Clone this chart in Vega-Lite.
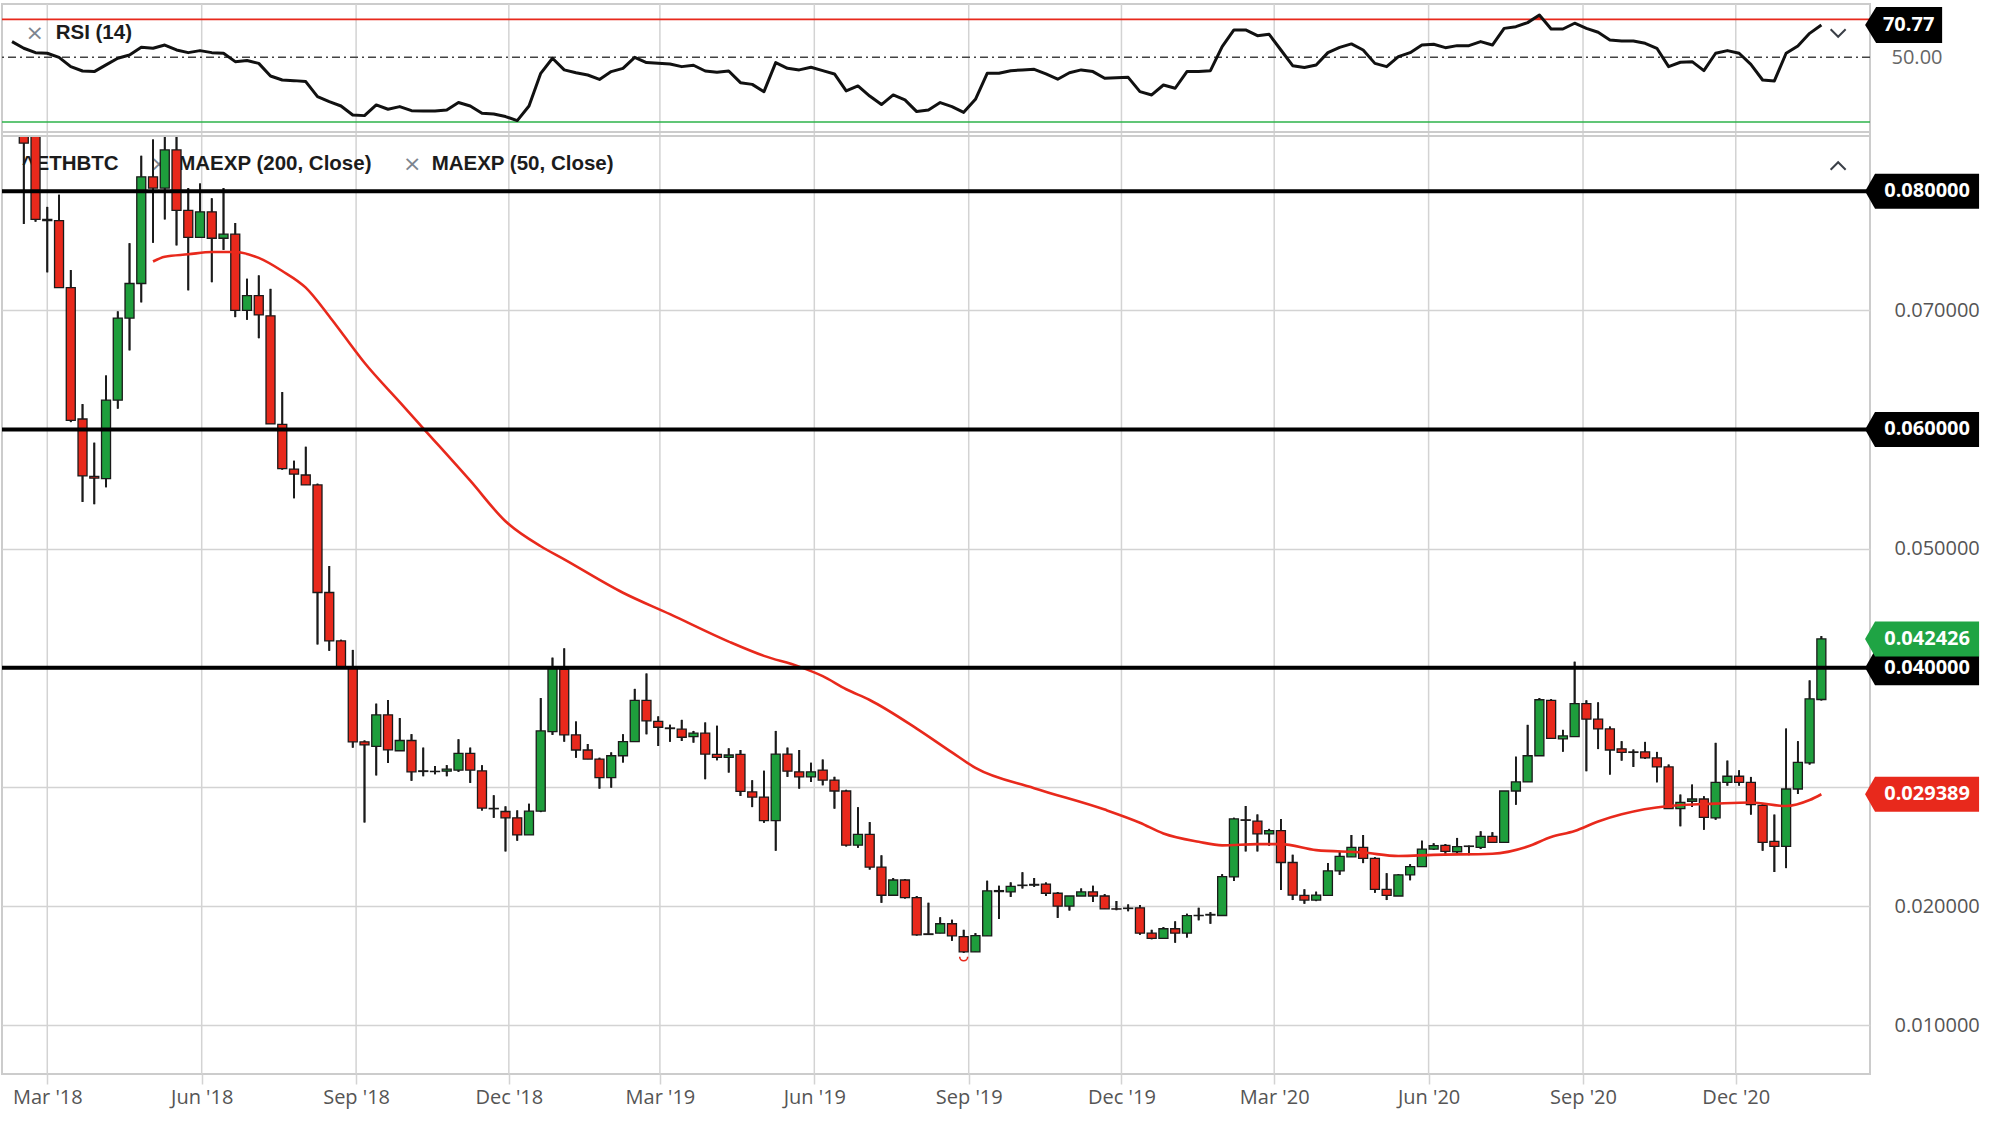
{
  "$schema": "https://vega.github.io/schema/vega-lite/v6.json",
  "width": 1868,
  "height": 1070,
  "autosize": {"type": "none"},
  "padding": {"left": 2, "top": 4, "right": 130, "bottom": 51},
  "background": "#FFFFFF",
  "datasets": {
    "candles": [
      {"d": "2018-02-08", "r": 60.1},
      {"d": "2018-02-15", "o": 0.086, "h": 0.088, "l": 0.07725, "c": 0.08403, "r": 55.8},
      {"d": "2018-02-22", "o": 0.085, "h": 0.0862, "l": 0.07744, "c": 0.07763, "r": 53.0},
      {"d": "2018-03-01", "o": 0.07763, "h": 0.07868, "l": 0.07319, "c": 0.07752, "r": 52.6},
      {"d": "2018-03-08", "o": 0.07752, "h": 0.0797, "l": 0.07191, "c": 0.07191, "r": 50.0},
      {"d": "2018-03-15", "o": 0.07191, "h": 0.07338, "l": 0.06062, "c": 0.06077, "r": 44.0},
      {"d": "2018-03-22", "o": 0.06088, "h": 0.06213, "l": 0.05392, "c": 0.0561, "r": 41.2},
      {"d": "2018-03-29", "o": 0.05607, "h": 0.05889, "l": 0.05373, "c": 0.05592, "r": 40.8},
      {"d": "2018-04-05", "o": 0.05588, "h": 0.06453, "l": 0.05516, "c": 0.06246, "r": 45.1},
      {"d": "2018-04-12", "o": 0.06246, "h": 0.06991, "l": 0.06175, "c": 0.06935, "r": 49.4},
      {"d": "2018-04-19", "o": 0.06935, "h": 0.07563, "l": 0.06664, "c": 0.07225, "r": 51.5},
      {"d": "2018-04-26", "o": 0.07225, "h": 0.08297, "l": 0.07067, "c": 0.0812, "r": 56.4},
      {"d": "2018-05-03", "o": 0.0812, "h": 0.08433, "l": 0.07567, "c": 0.08026, "r": 55.8},
      {"d": "2018-05-10", "o": 0.08026, "h": 0.085, "l": 0.07763, "c": 0.08346, "r": 57.9},
      {"d": "2018-05-17", "o": 0.08346, "h": 0.0855, "l": 0.07545, "c": 0.07838, "r": 54.7},
      {"d": "2018-05-24", "o": 0.07838, "h": 0.08026, "l": 0.07168, "c": 0.07612, "r": 53.0},
      {"d": "2018-05-31", "o": 0.07612, "h": 0.08064, "l": 0.07612, "c": 0.07827, "r": 54.3},
      {"d": "2018-06-07", "o": 0.07827, "h": 0.0794, "l": 0.07236, "c": 0.07605, "r": 53.0},
      {"d": "2018-06-14", "o": 0.07605, "h": 0.08026, "l": 0.07507, "c": 0.07639, "r": 52.6},
      {"d": "2018-06-21", "o": 0.07639, "h": 0.07733, "l": 0.06943, "c": 0.06999, "r": 47.2},
      {"d": "2018-06-28", "o": 0.06999, "h": 0.07266, "l": 0.0692, "c": 0.07123, "r": 47.9},
      {"d": "2018-07-05", "o": 0.07123, "h": 0.07293, "l": 0.06766, "c": 0.06961, "r": 46.1},
      {"d": "2018-07-12", "o": 0.06954, "h": 0.0718, "l": 0.06047, "c": 0.06047, "r": 38.0},
      {"d": "2018-07-19", "o": 0.06043, "h": 0.06314, "l": 0.05663, "c": 0.05671, "r": 35.4},
      {"d": "2018-07-26", "o": 0.05667, "h": 0.05738, "l": 0.05422, "c": 0.05626, "r": 35.0},
      {"d": "2018-08-02", "o": 0.05618, "h": 0.05855, "l": 0.05535, "c": 0.05535, "r": 34.4},
      {"d": "2018-08-09", "o": 0.05535, "h": 0.05545, "l": 0.04196, "c": 0.04632, "r": 24.7},
      {"d": "2018-08-16", "o": 0.04632, "h": 0.04854, "l": 0.04143, "c": 0.04226, "r": 21.5},
      {"d": "2018-08-23", "o": 0.04226, "h": 0.04236, "l": 0.0399, "c": 0.04, "r": 18.7},
      {"d": "2018-08-30", "o": 0.04, "h": 0.0415, "l": 0.0333, "c": 0.03379, "r": 12.9},
      {"d": "2018-09-06", "o": 0.03379, "h": 0.0339, "l": 0.02702, "c": 0.03353, "r": 12.5},
      {"d": "2018-09-13", "o": 0.03341, "h": 0.03699, "l": 0.03097, "c": 0.03605, "r": 19.4},
      {"d": "2018-09-20", "o": 0.03605, "h": 0.03729, "l": 0.03202, "c": 0.03311, "r": 16.6},
      {"d": "2018-09-27", "o": 0.03304, "h": 0.03578, "l": 0.03304, "c": 0.0339, "r": 18.3},
      {"d": "2018-10-04", "o": 0.0339, "h": 0.03443, "l": 0.03052, "c": 0.03127, "r": 15.7},
      {"d": "2018-10-11", "o": 0.03135, "h": 0.0333, "l": 0.0309, "c": 0.0313, "r": 15.5},
      {"d": "2018-10-18", "o": 0.03131, "h": 0.03175, "l": 0.03107, "c": 0.03129, "r": 15.5},
      {"d": "2018-10-25", "o": 0.03132, "h": 0.03183, "l": 0.0309, "c": 0.03149, "r": 16.1},
      {"d": "2018-11-01", "o": 0.03141, "h": 0.034, "l": 0.03127, "c": 0.03282, "r": 20.9},
      {"d": "2018-11-08", "o": 0.03282, "h": 0.0333, "l": 0.03034, "c": 0.03141, "r": 18.7},
      {"d": "2018-11-15", "o": 0.03135, "h": 0.03183, "l": 0.02803, "c": 0.02823, "r": 14.0},
      {"d": "2018-11-22", "o": 0.0282, "h": 0.0293, "l": 0.02741, "c": 0.02817, "r": 13.6},
      {"d": "2018-11-29", "o": 0.02794, "h": 0.02837, "l": 0.02459, "c": 0.02741, "r": 11.9},
      {"d": "2018-12-06", "o": 0.02741, "h": 0.02803, "l": 0.02549, "c": 0.02597, "r": 9.3},
      {"d": "2018-12-13", "o": 0.02597, "h": 0.02859, "l": 0.02597, "c": 0.02797, "r": 18.7},
      {"d": "2018-12-20", "o": 0.02797, "h": 0.03746, "l": 0.02789, "c": 0.0347, "r": 39.7},
      {"d": "2018-12-27", "o": 0.03465, "h": 0.04085, "l": 0.03437, "c": 0.03994, "r": 49.4},
      {"d": "2019-01-03", "o": 0.03986, "h": 0.04163, "l": 0.0338, "c": 0.03437, "r": 41.9},
      {"d": "2019-01-10", "o": 0.03437, "h": 0.03549, "l": 0.03245, "c": 0.0331, "r": 40.1},
      {"d": "2019-01-17", "o": 0.0331, "h": 0.0336, "l": 0.03234, "c": 0.03234, "r": 38.6},
      {"d": "2019-01-24", "o": 0.03234, "h": 0.03245, "l": 0.02986, "c": 0.03079, "r": 35.8},
      {"d": "2019-01-31", "o": 0.03079, "h": 0.0329, "l": 0.02994, "c": 0.03262, "r": 40.8},
      {"d": "2019-02-07", "o": 0.03262, "h": 0.03442, "l": 0.03206, "c": 0.0338, "r": 42.9},
      {"d": "2019-02-14", "o": 0.0338, "h": 0.03823, "l": 0.0338, "c": 0.03727, "r": 50.0},
      {"d": "2019-02-21", "o": 0.03727, "h": 0.03952, "l": 0.03442, "c": 0.03555, "r": 46.6},
      {"d": "2019-02-28", "o": 0.0355, "h": 0.03592, "l": 0.03344, "c": 0.03501, "r": 46.1},
      {"d": "2019-03-07", "o": 0.03495, "h": 0.03521, "l": 0.0338, "c": 0.0349, "r": 45.7},
      {"d": "2019-03-14", "o": 0.03485, "h": 0.03563, "l": 0.03386, "c": 0.03417, "r": 44.0},
      {"d": "2019-03-21", "o": 0.03423, "h": 0.0347, "l": 0.03372, "c": 0.03451, "r": 44.9},
      {"d": "2019-03-28", "o": 0.03451, "h": 0.03541, "l": 0.03065, "c": 0.03276, "r": 41.2},
      {"d": "2019-04-04", "o": 0.03273, "h": 0.03513, "l": 0.03225, "c": 0.03248, "r": 40.4},
      {"d": "2019-04-11", "o": 0.03248, "h": 0.03324, "l": 0.03121, "c": 0.03268, "r": 41.2},
      {"d": "2019-04-18", "o": 0.03273, "h": 0.0331, "l": 0.02924, "c": 0.02963, "r": 33.7},
      {"d": "2019-04-25", "o": 0.02958, "h": 0.03056, "l": 0.02831, "c": 0.02915, "r": 32.6},
      {"d": "2019-05-02", "o": 0.02915, "h": 0.03135, "l": 0.02699, "c": 0.02718, "r": 27.9},
      {"d": "2019-05-09", "o": 0.02718, "h": 0.0347, "l": 0.02465, "c": 0.03276, "r": 46.6},
      {"d": "2019-05-16", "o": 0.03276, "h": 0.0333, "l": 0.03085, "c": 0.03132, "r": 42.9},
      {"d": "2019-05-23", "o": 0.03127, "h": 0.0331, "l": 0.02986, "c": 0.03085, "r": 41.9},
      {"d": "2019-05-30", "o": 0.03085, "h": 0.03203, "l": 0.03042, "c": 0.03127, "r": 43.6},
      {"d": "2019-06-06", "o": 0.03142, "h": 0.0323, "l": 0.03014, "c": 0.03057, "r": 41.4},
      {"d": "2019-06-13", "o": 0.03057, "h": 0.03085, "l": 0.02818, "c": 0.02966, "r": 39.3},
      {"d": "2019-06-20", "o": 0.02966, "h": 0.02976, "l": 0.02501, "c": 0.02511, "r": 28.4},
      {"d": "2019-06-27", "o": 0.02511, "h": 0.0283, "l": 0.02489, "c": 0.02602, "r": 31.6},
      {"d": "2019-07-04", "o": 0.02602, "h": 0.02705, "l": 0.02307, "c": 0.02327, "r": 25.1},
      {"d": "2019-07-11", "o": 0.02327, "h": 0.02426, "l": 0.02028, "c": 0.02091, "r": 19.6},
      {"d": "2019-07-18", "o": 0.02091, "h": 0.02236, "l": 0.02091, "c": 0.02219, "r": 25.8},
      {"d": "2019-07-25", "o": 0.02219, "h": 0.02227, "l": 0.02063, "c": 0.02071, "r": 22.6},
      {"d": "2019-08-01", "o": 0.02071, "h": 0.02085, "l": 0.01753, "c": 0.01759, "r": 15.1},
      {"d": "2019-08-08", "o": 0.01767, "h": 0.02028, "l": 0.01759, "c": 0.01762, "r": 16.1},
      {"d": "2019-08-15", "o": 0.01773, "h": 0.01906, "l": 0.01773, "c": 0.01852, "r": 20.9},
      {"d": "2019-08-22", "o": 0.01852, "h": 0.01886, "l": 0.0171, "c": 0.0175, "r": 18.3},
      {"d": "2019-08-29", "o": 0.01744, "h": 0.01801, "l": 0.01608, "c": 0.01616, "r": 14.6},
      {"d": "2019-09-05", "o": 0.01616, "h": 0.01773, "l": 0.01616, "c": 0.01753, "r": 23.0},
      {"d": "2019-09-12", "o": 0.0175, "h": 0.02213, "l": 0.0175, "c": 0.02128, "r": 39.7},
      {"d": "2019-09-19", "o": 0.02122, "h": 0.0217, "l": 0.01892, "c": 0.0213, "r": 39.7},
      {"d": "2019-09-26", "o": 0.02119, "h": 0.02199, "l": 0.02077, "c": 0.02165, "r": 41.4},
      {"d": "2019-10-03", "o": 0.02173, "h": 0.02284, "l": 0.02148, "c": 0.02176, "r": 41.9},
      {"d": "2019-10-10", "o": 0.02176, "h": 0.02236, "l": 0.02162, "c": 0.02182, "r": 42.3},
      {"d": "2019-10-17", "o": 0.02185, "h": 0.02199, "l": 0.02085, "c": 0.02108, "r": 39.3},
      {"d": "2019-10-24", "o": 0.02108, "h": 0.02118, "l": 0.01901, "c": 0.02, "r": 35.9},
      {"d": "2019-10-31", "o": 0.02, "h": 0.02085, "l": 0.01963, "c": 0.02085, "r": 40.1},
      {"d": "2019-11-07", "o": 0.02085, "h": 0.02148, "l": 0.02085, "c": 0.02119, "r": 41.9},
      {"d": "2019-11-14", "o": 0.02119, "h": 0.0217, "l": 0.02034, "c": 0.02085, "r": 40.8},
      {"d": "2019-11-21", "o": 0.02085, "h": 0.021, "l": 0.01977, "c": 0.01977, "r": 36.5},
      {"d": "2019-11-28", "o": 0.01977, "h": 0.02043, "l": 0.01966, "c": 0.01975, "r": 36.9},
      {"d": "2019-12-05", "o": 0.0198, "h": 0.02014, "l": 0.01957, "c": 0.01983, "r": 37.1},
      {"d": "2019-12-12", "o": 0.01986, "h": 0.02009, "l": 0.01759, "c": 0.01773, "r": 27.9},
      {"d": "2019-12-19", "o": 0.01773, "h": 0.01801, "l": 0.01722, "c": 0.0173, "r": 25.8},
      {"d": "2019-12-26", "o": 0.0173, "h": 0.01824, "l": 0.0173, "c": 0.0181, "r": 32.2},
      {"d": "2020-01-02", "o": 0.0181, "h": 0.01872, "l": 0.01693, "c": 0.01773, "r": 30.1},
      {"d": "2020-01-09", "o": 0.01773, "h": 0.01935, "l": 0.01736, "c": 0.0192, "r": 40.8},
      {"d": "2020-01-16", "o": 0.0192, "h": 0.01986, "l": 0.01881, "c": 0.01922, "r": 40.8},
      {"d": "2020-01-23", "o": 0.01925, "h": 0.01949, "l": 0.01852, "c": 0.0193, "r": 41.4},
      {"d": "2020-01-30", "o": 0.01921, "h": 0.02268, "l": 0.01921, "c": 0.02248, "r": 56.9},
      {"d": "2020-02-06", "o": 0.02245, "h": 0.02742, "l": 0.02211, "c": 0.02732, "r": 67.6},
      {"d": "2020-02-13", "o": 0.02724, "h": 0.0284, "l": 0.02459, "c": 0.0272, "r": 67.6},
      {"d": "2020-02-20", "o": 0.02713, "h": 0.02769, "l": 0.02459, "c": 0.02606, "r": 63.9},
      {"d": "2020-02-27", "o": 0.02606, "h": 0.02648, "l": 0.02507, "c": 0.02634, "r": 64.8},
      {"d": "2020-03-05", "o": 0.02634, "h": 0.02732, "l": 0.02135, "c": 0.02366, "r": 54.7},
      {"d": "2020-03-12", "o": 0.02366, "h": 0.02431, "l": 0.02051, "c": 0.02093, "r": 44.6},
      {"d": "2020-03-19", "o": 0.0209, "h": 0.02141, "l": 0.0202, "c": 0.02051, "r": 43.4},
      {"d": "2020-03-26", "o": 0.02051, "h": 0.02121, "l": 0.02042, "c": 0.02093, "r": 45.1},
      {"d": "2020-04-02", "o": 0.0209, "h": 0.02361, "l": 0.02085, "c": 0.02296, "r": 53.0},
      {"d": "2020-04-09", "o": 0.02296, "h": 0.02459, "l": 0.02262, "c": 0.02417, "r": 56.4},
      {"d": "2020-04-16", "o": 0.02414, "h": 0.02597, "l": 0.02414, "c": 0.02493, "r": 58.6},
      {"d": "2020-04-23", "o": 0.02493, "h": 0.02597, "l": 0.02361, "c": 0.024, "r": 54.7},
      {"d": "2020-04-30", "o": 0.024, "h": 0.0241, "l": 0.02113, "c": 0.02141, "r": 46.1},
      {"d": "2020-05-07", "o": 0.02141, "h": 0.02276, "l": 0.02051, "c": 0.0209, "r": 44.0},
      {"d": "2020-05-14", "o": 0.02085, "h": 0.02268, "l": 0.02085, "c": 0.02262, "r": 50.4},
      {"d": "2020-05-21", "o": 0.02262, "h": 0.02352, "l": 0.02217, "c": 0.02332, "r": 53.0},
      {"d": "2020-05-28", "o": 0.02332, "h": 0.02549, "l": 0.02332, "c": 0.02479, "r": 57.9},
      {"d": "2020-06-04", "o": 0.02479, "h": 0.02527, "l": 0.02473, "c": 0.02507, "r": 58.4},
      {"d": "2020-06-11", "o": 0.0251, "h": 0.02521, "l": 0.02423, "c": 0.02459, "r": 56.2},
      {"d": "2020-06-18", "o": 0.02456, "h": 0.02572, "l": 0.02437, "c": 0.02499, "r": 57.5},
      {"d": "2020-06-25", "o": 0.02501, "h": 0.02507, "l": 0.02428, "c": 0.02504, "r": 57.5},
      {"d": "2020-07-02", "o": 0.02493, "h": 0.02628, "l": 0.02479, "c": 0.02586, "r": 60.1},
      {"d": "2020-07-09", "o": 0.02586, "h": 0.0262, "l": 0.02535, "c": 0.02535, "r": 57.9},
      {"d": "2020-07-16", "o": 0.02535, "h": 0.02966, "l": 0.02535, "c": 0.02966, "r": 68.6},
      {"d": "2020-07-23", "o": 0.02966, "h": 0.03254, "l": 0.02851, "c": 0.03042, "r": 69.7},
      {"d": "2020-07-30", "o": 0.03042, "h": 0.03521, "l": 0.03042, "c": 0.03262, "r": 72.3},
      {"d": "2020-08-06", "o": 0.03262, "h": 0.03746, "l": 0.03262, "c": 0.03732, "r": 77.2},
      {"d": "2020-08-13", "o": 0.03727, "h": 0.03737, "l": 0.03403, "c": 0.03408, "r": 68.2},
      {"d": "2020-08-20", "o": 0.03403, "h": 0.03479, "l": 0.03296, "c": 0.03428, "r": 68.2},
      {"d": "2020-08-27", "o": 0.03423, "h": 0.04051, "l": 0.03423, "c": 0.03699, "r": 71.9},
      {"d": "2020-09-03", "o": 0.03699, "h": 0.03727, "l": 0.03132, "c": 0.03569, "r": 68.6},
      {"d": "2020-09-10", "o": 0.03569, "h": 0.0371, "l": 0.03318, "c": 0.03487, "r": 66.1},
      {"d": "2020-09-17", "o": 0.03487, "h": 0.03507, "l": 0.03104, "c": 0.0331, "r": 61.1},
      {"d": "2020-09-24", "o": 0.0332, "h": 0.03384, "l": 0.03221, "c": 0.03291, "r": 60.5},
      {"d": "2020-10-01", "o": 0.03294, "h": 0.03314, "l": 0.03168, "c": 0.0329, "r": 60.5},
      {"d": "2020-10-08", "o": 0.03294, "h": 0.03378, "l": 0.03235, "c": 0.03244, "r": 59.0},
      {"d": "2020-10-15", "o": 0.03244, "h": 0.03294, "l": 0.03039, "c": 0.03168, "r": 55.8},
      {"d": "2020-10-22", "o": 0.03168, "h": 0.03188, "l": 0.02818, "c": 0.02818, "r": 44.0},
      {"d": "2020-10-29", "o": 0.02818, "h": 0.02936, "l": 0.0267, "c": 0.02871, "r": 46.8},
      {"d": "2020-11-05", "o": 0.0288, "h": 0.0302, "l": 0.02832, "c": 0.02899, "r": 47.2},
      {"d": "2020-11-12", "o": 0.02899, "h": 0.02922, "l": 0.02641, "c": 0.02745, "r": 41.4},
      {"d": "2020-11-19", "o": 0.0274, "h": 0.0337, "l": 0.02725, "c": 0.03039, "r": 52.6},
      {"d": "2020-11-26", "o": 0.03039, "h": 0.03221, "l": 0.03011, "c": 0.0309, "r": 54.3},
      {"d": "2020-12-03", "o": 0.0309, "h": 0.0314, "l": 0.03011, "c": 0.03039, "r": 52.6},
      {"d": "2020-12-10", "o": 0.03039, "h": 0.03084, "l": 0.02768, "c": 0.02852, "r": 45.5},
      {"d": "2020-12-17", "o": 0.02846, "h": 0.02856, "l": 0.02465, "c": 0.02535, "r": 35.4},
      {"d": "2020-12-24", "o": 0.02543, "h": 0.02768, "l": 0.02286, "c": 0.02501, "r": 34.8},
      {"d": "2020-12-31", "o": 0.02501, "h": 0.0349, "l": 0.02319, "c": 0.02983, "r": 52.6},
      {"d": "2021-01-07", "o": 0.02983, "h": 0.03384, "l": 0.02941, "c": 0.03207, "r": 57.3},
      {"d": "2021-01-14", "o": 0.03202, "h": 0.03894, "l": 0.03188, "c": 0.0374, "r": 65.4},
      {"d": "2021-01-21", "o": 0.03734, "h": 0.04266, "l": 0.03726, "c": 0.042426, "r": 70.77}
    ],
    "ma": [
      {"d": "2018-05-03", "ma": 0.0741}, {"d": "2018-05-10", "ma": 0.0745},
      {"d": "2018-05-24", "ma": 0.0747}, {"d": "2018-06-07", "ma": 0.0749},
      {"d": "2018-06-21", "ma": 0.0749}, {"d": "2018-07-05", "ma": 0.0744},
      {"d": "2018-07-19", "ma": 0.0733}, {"d": "2018-08-02", "ma": 0.0719},
      {"d": "2018-08-16", "ma": 0.0695}, {"d": "2018-08-23", "ma": 0.0682},
      {"d": "2018-09-06", "ma": 0.0656}, {"d": "2018-09-27", "ma": 0.0623},
      {"d": "2018-10-11", "ma": 0.0601}, {"d": "2018-11-08", "ma": 0.0557},
      {"d": "2018-11-29", "ma": 0.0523}, {"d": "2018-12-20", "ma": 0.0502},
      {"d": "2019-01-03", "ma": 0.0491}, {"d": "2019-02-07", "ma": 0.0463},
      {"d": "2019-03-07", "ma": 0.0445}, {"d": "2019-04-11", "ma": 0.0422},
      {"d": "2019-05-02", "ma": 0.041}, {"d": "2019-05-23", "ma": 0.0401},
      {"d": "2019-06-06", "ma": 0.0393}, {"d": "2019-06-20", "ma": 0.0382},
      {"d": "2019-07-04", "ma": 0.0373}, {"d": "2019-08-01", "ma": 0.0349},
      {"d": "2019-08-22", "ma": 0.0329}, {"d": "2019-09-05", "ma": 0.0316},
      {"d": "2019-10-10", "ma": 0.0299}, {"d": "2019-11-21", "ma": 0.0281},
      {"d": "2019-12-12", "ma": 0.027}, {"d": "2019-12-26", "ma": 0.0261},
      {"d": "2020-01-16", "ma": 0.0254}, {"d": "2020-01-30", "ma": 0.0251},
      {"d": "2020-02-20", "ma": 0.0252}, {"d": "2020-03-05", "ma": 0.0252},
      {"d": "2020-03-26", "ma": 0.0247}, {"d": "2020-04-23", "ma": 0.0245},
      {"d": "2020-05-14", "ma": 0.0242}, {"d": "2020-06-04", "ma": 0.0243},
      {"d": "2020-07-09", "ma": 0.0244}, {"d": "2020-07-30", "ma": 0.025},
      {"d": "2020-08-13", "ma": 0.0258}, {"d": "2020-08-27", "ma": 0.0263},
      {"d": "2020-09-10", "ma": 0.0271}, {"d": "2020-09-24", "ma": 0.0277},
      {"d": "2020-10-22", "ma": 0.0284}, {"d": "2020-11-19", "ma": 0.0286},
      {"d": "2020-12-10", "ma": 0.0287}, {"d": "2020-12-31", "ma": 0.0284},
      {"d": "2021-01-14", "ma": 0.0289}, {"d": "2021-01-21", "ma": 0.029389}
    ],
    "quarters": [
      {"d": "2018-03-01"}, {"d": "2018-06-01"}, {"d": "2018-09-01"}, {"d": "2018-12-01"},
      {"d": "2019-03-01"}, {"d": "2019-06-01"}, {"d": "2019-09-01"}, {"d": "2019-12-01"},
      {"d": "2020-03-01"}, {"d": "2020-06-01"}, {"d": "2020-09-01"}, {"d": "2020-12-01"}
    ],
    "tags": [
      {"v": 0.08, "kind": "level"},
      {"v": 0.06, "kind": "level"},
      {"v": 0.04, "kind": "level"},
      {"v": 0.029389, "kind": "ma"},
      {"v": 0.042426, "kind": "last"}
    ],
    "priceNotes": [
      {"t": "^", "d": "2018-02-14", "v": 0.08228, "kind": "name"},
      {"t": "ETHBTC", "d": "2018-02-22", "v": 0.08228, "kind": "name"},
      {"t": "×", "d": "2018-05-01", "v": 0.08228, "kind": "icon"},
      {"t": "MAEXP (200, Close)", "d": "2018-05-18", "v": 0.08228, "kind": "name"},
      {"t": "×", "d": "2018-09-29", "v": 0.08228, "kind": "icon"},
      {"t": "MAEXP (50, Close)", "d": "2018-10-16", "v": 0.08228, "kind": "name"}
    ],
    "rsiNotes": [
      {"t": "×", "d": "2018-02-16", "v": 65.6, "kind": "icon"},
      {"t": "RSI (14)", "d": "2018-03-06", "v": 65.6, "kind": "name"}
    ],
    "overbought": [
      {"d": "2020-08-02", "r": 74.4},
      {"d": "2020-08-06", "r": 77.2},
      {"d": "2020-08-08", "r": 74.4}
    ],
    "rsiLast": [{"v": 70.77}],
    "marks": [
      {"d": "2019-08-29", "v": 0.01575, "kind": "low"},
      {"d": "2021-01-31", "v": 0.08211, "kind": "collapse"}
    ]
  },
  "layer": [
    {
      "layer": [
        {
          "data": {"name": "quarters"},
          "mark": {"type": "rule", "color": "#d3d3d3", "strokeWidth": 1.5},
          "encoding": {
            "x": {
              "field": "d", "type": "temporal", "title": null,
              "scale": {"type": "utc", "nice": false, "domain": [{"year": 2018, "month": 2, "date": 5, "utc": true}, {"year": 2021, "month": 2, "date": 16, "utc": true}]},
              "axis": {
                "values": [
                  {"year": 2018, "month": 3, "date": 1, "utc": true},
                  {"year": 2018, "month": 6, "date": 1, "utc": true},
                  {"year": 2018, "month": 9, "date": 1, "utc": true},
                  {"year": 2018, "month": 12, "date": 1, "utc": true},
                  {"year": 2019, "month": 3, "date": 1, "utc": true},
                  {"year": 2019, "month": 6, "date": 1, "utc": true},
                  {"year": 2019, "month": 9, "date": 1, "utc": true},
                  {"year": 2019, "month": 12, "date": 1, "utc": true},
                  {"year": 2020, "month": 3, "date": 1, "utc": true},
                  {"year": 2020, "month": 6, "date": 1, "utc": true},
                  {"year": 2020, "month": 9, "date": 1, "utc": true},
                  {"year": 2020, "month": 12, "date": 1, "utc": true}
                ],
                "labelExpr": "utcFormat(datum.value, \"%b '%y\")",
                "orient": "bottom",
                "grid": false,
                "domain": false,
                "ticks": true,
                "tickSize": 10,
                "tickColor": "#d3d3d3",
                "tickWidth": 1.5,
                "labelFont": "Open Sans",
                "labelFontSize": 20,
                "labelColor": "#555555",
                "labelPadding": 3,
                "labelFlush": false,
                "labelOverlap": false
              }
            }
          }
        },
        {
          "data": {"name": "candles"},
          "mark": {"type": "rule", "color": "#1a1a1a", "strokeWidth": 1.8},
          "encoding": {
            "x": {"field": "d", "type": "temporal", "title": null, "scale": {"type": "utc", "nice": false, "domain": [{"year": 2018, "month": 2, "date": 5, "utc": true}, {"year": 2021, "month": 2, "date": 16, "utc": true}]}},
            "y": {
              "field": "l", "type": "quantitative", "title": null,
              "scale": {"domain": [0.00591, 0.08463], "range": [1070, 132], "clamp": true, "nice": false, "zero": false},
              "axis": {
                "orient": "right",
                "values": [0.01, 0.02, 0.03, 0.04, 0.05, 0.06, 0.07, 0.08],
                "labelExpr": "(datum.value > 0.0295 && datum.value < 0.0305) || (datum.value > 0.0395 && datum.value < 0.0405) || (datum.value > 0.0595 && datum.value < 0.0605) || datum.value > 0.0795 ? '' : format(datum.value, '.6f')",
                "grid": true,
                "gridColor": "#d3d3d3",
                "gridWidth": 1.5,
                "ticks": false,
                "domain": false,
                "labelAlign": "left",
                "labelPadding": 24,
                "labelFont": "Open Sans",
                "labelFontSize": 20,
                "labelColor": "#555555"
              }
            },
            "y2": {"field": "h"}
          }
        },
        {
          "data": {"name": "priceNotes"},
          "transform": [{"filter": "datum.kind == 'name'"}],
          "mark": {"type": "text", "align": "left", "baseline": "middle", "font": "Liberation Sans", "fontWeight": "bold", "fontSize": 20.5, "color": "#1c1c1c"},
          "encoding": {
            "x": {"field": "d", "type": "temporal", "title": null, "scale": {"type": "utc", "nice": false, "domain": [{"year": 2018, "month": 2, "date": 5, "utc": true}, {"year": 2021, "month": 2, "date": 16, "utc": true}]}},
            "y": {"field": "v", "type": "quantitative", "title": null, "scale": {"domain": [0.00591, 0.08463], "range": [1070, 132], "clamp": true, "nice": false, "zero": false}},
            "text": {"field": "t"}
          }
        },
        {
          "data": {"name": "priceNotes"},
          "transform": [{"filter": "datum.kind == 'icon'"}],
          "mark": {"type": "text", "align": "left", "baseline": "middle", "font": "DejaVu Sans", "fontSize": 22, "color": "#7d858f"},
          "encoding": {
            "x": {"field": "d", "type": "temporal", "title": null, "scale": {"type": "utc", "nice": false, "domain": [{"year": 2018, "month": 2, "date": 5, "utc": true}, {"year": 2021, "month": 2, "date": 16, "utc": true}]}},
            "y": {"field": "v", "type": "quantitative", "title": null, "scale": {"domain": [0.00591, 0.08463], "range": [1070, 132], "clamp": true, "nice": false, "zero": false}},
            "text": {"field": "t"}
          }
        },
        {
          "data": {"name": "candles"},
          "mark": {"type": "rule", "color": "#1a1a1a", "strokeWidth": 1.8},
          "encoding": {
            "x": {"field": "d", "type": "temporal", "title": null, "scale": {"type": "utc", "nice": false, "domain": [{"year": 2018, "month": 2, "date": 5, "utc": true}, {"year": 2021, "month": 2, "date": 16, "utc": true}]}},
            "y": {"field": "l", "type": "quantitative", "title": null, "scale": {"domain": [0.00591, 0.08463], "range": [1070, 132], "clamp": true, "nice": false, "zero": false}},
            "y2": {"field": "h"}
          }
        },
        {
          "data": {"name": "candles"},
          "mark": {"type": "bar", "width": 9, "stroke": "#1a1a1a", "strokeWidth": 1.3},
          "encoding": {
            "x": {"field": "d", "type": "temporal", "title": null, "scale": {"type": "utc", "nice": false, "domain": [{"year": 2018, "month": 2, "date": 5, "utc": true}, {"year": 2021, "month": 2, "date": 16, "utc": true}]}},
            "y": {"field": "o", "type": "quantitative", "title": null, "scale": {"domain": [0.00591, 0.08463], "range": [1070, 132], "clamp": true, "nice": false, "zero": false}},
            "y2": {"field": "c"},
            "fill": {"condition": {"test": "datum.c >= datum.o", "value": "#1E9E3C"}, "value": "#E8291C"}
          }
        },
        {
          "data": {"name": "ma"},
          "mark": {"type": "line", "color": "#E8291C", "strokeWidth": 2.6, "interpolate": "monotone"},
          "encoding": {
            "x": {"field": "d", "type": "temporal", "title": null, "scale": {"type": "utc", "nice": false, "domain": [{"year": 2018, "month": 2, "date": 5, "utc": true}, {"year": 2021, "month": 2, "date": 16, "utc": true}]}},
            "y": {"field": "ma", "type": "quantitative", "title": null, "scale": {"domain": [0.00591, 0.08463], "range": [1070, 132], "clamp": true, "nice": false, "zero": false}}
          }
        },
        {
          "data": {"name": "tags"},
          "transform": [{"filter": "datum.kind == 'level'"}],
          "mark": {"type": "rule", "color": "#000000", "strokeWidth": 4},
          "encoding": {
            "y": {"field": "v", "type": "quantitative", "title": null, "scale": {"domain": [0.00591, 0.08463], "range": [1070, 132], "clamp": true, "nice": false, "zero": false}}
          }
        },
        {
          "data": {"values": [{}]},
          "mark": {"type": "rule", "color": "#cccccc", "strokeWidth": 2},
          "encoding": {
            "y": {"datum": 0.08463, "type": "quantitative", "scale": {"domain": [0.00591, 0.08463], "range": [1070, 132], "clamp": true, "nice": false, "zero": false}}
          }
        },
        {
          "data": {"name": "tags"},
          "mark": {"type": "point", "shape": "M-1,0L-0.825,-0.307L1,-0.307L1,0.307L-0.825,0.307Z", "size": 12996, "filled": true, "opacity": 1},
          "encoding": {
            "x": {"datum": {"year": 2021, "month": 3, "date": 22, "utc": true}, "type": "temporal", "scale": {"type": "utc", "nice": false, "domain": [{"year": 2018, "month": 2, "date": 5, "utc": true}, {"year": 2021, "month": 2, "date": 16, "utc": true}]}},
            "y": {"field": "v", "type": "quantitative", "title": null, "scale": {"domain": [0.00591, 0.08463], "range": [1070, 132], "clamp": true, "nice": false, "zero": false}},
            "fill": {"field": "kind", "type": "nominal", "legend": null, "scale": {"domain": ["level", "last", "ma"], "range": ["#000000", "#1FA444", "#E8291C"]}}
          }
        },
        {
          "data": {"name": "tags"},
          "mark": {"type": "text", "align": "center", "baseline": "middle", "font": "Open Sans", "fontWeight": "bold", "fontSize": 20, "color": "#FFFFFF"},
          "encoding": {
            "x": {"datum": {"year": 2021, "month": 3, "date": 25, "utc": true}, "type": "temporal", "scale": {"type": "utc", "nice": false, "domain": [{"year": 2018, "month": 2, "date": 5, "utc": true}, {"year": 2021, "month": 2, "date": 16, "utc": true}]}},
            "y": {"field": "v", "type": "quantitative", "title": null, "scale": {"domain": [0.00591, 0.08463], "range": [1070, 132], "clamp": true, "nice": false, "zero": false}},
            "text": {"field": "v", "type": "quantitative", "format": ".6f"}
          }
        },
        {
          "data": {"name": "marks"},
          "transform": [{"filter": "datum.kind == 'low'"}],
          "mark": {"type": "point", "shape": "M-1,0A1,1 0 0 0 1,0", "size": 64, "filled": false, "color": "#E8291C", "strokeWidth": 1.6, "opacity": 1},
          "encoding": {
            "x": {"field": "d", "type": "temporal", "title": null, "scale": {"type": "utc", "nice": false, "domain": [{"year": 2018, "month": 2, "date": 5, "utc": true}, {"year": 2021, "month": 2, "date": 16, "utc": true}]}},
            "y": {"field": "v", "type": "quantitative", "title": null, "scale": {"domain": [0.00591, 0.08463], "range": [1070, 132], "clamp": true, "nice": false, "zero": false}}
          }
        },
        {
          "data": {"name": "marks"},
          "transform": [{"filter": "datum.kind == 'collapse'"}],
          "mark": {"type": "point", "shape": "M-1,0.5L0,-0.5L1,0.5", "size": 225, "filled": false, "color": "#3a3f47", "strokeWidth": 2, "opacity": 1},
          "encoding": {
            "x": {"field": "d", "type": "temporal", "title": null, "scale": {"type": "utc", "nice": false, "domain": [{"year": 2018, "month": 2, "date": 5, "utc": true}, {"year": 2021, "month": 2, "date": 16, "utc": true}]}},
            "y": {"field": "v", "type": "quantitative", "title": null, "scale": {"domain": [0.00591, 0.08463], "range": [1070, 132], "clamp": true, "nice": false, "zero": false}}
          }
        }
      ]
    },
    {
      "layer": [
        {
          "data": {"name": "candles"},
          "mark": {"type": "line", "color": "#111111", "strokeWidth": 3, "opacity": 0},
          "encoding": {
            "x": {
              "field": "d", "type": "temporal", "title": null,
              "scale": {"type": "utc", "nice": false, "domain": [{"year": 2018, "month": 2, "date": 5, "utc": true}, {"year": 2021, "month": 2, "date": 16, "utc": true}]},
              "axis": {
                "values": [
                  {"year": 2018, "month": 3, "date": 1, "utc": true},
                  {"year": 2018, "month": 6, "date": 1, "utc": true},
                  {"year": 2018, "month": 9, "date": 1, "utc": true},
                  {"year": 2018, "month": 12, "date": 1, "utc": true},
                  {"year": 2019, "month": 3, "date": 1, "utc": true},
                  {"year": 2019, "month": 6, "date": 1, "utc": true},
                  {"year": 2019, "month": 9, "date": 1, "utc": true},
                  {"year": 2019, "month": 12, "date": 1, "utc": true},
                  {"year": 2020, "month": 3, "date": 1, "utc": true},
                  {"year": 2020, "month": 6, "date": 1, "utc": true},
                  {"year": 2020, "month": 9, "date": 1, "utc": true},
                  {"year": 2020, "month": 12, "date": 1, "utc": true}
                ],
                "labelExpr": "utcFormat(datum.value, \"%b '%y\")",
                "orient": "bottom",
                "grid": false,
                "domain": false,
                "ticks": true,
                "tickSize": 10,
                "tickColor": "#d3d3d3",
                "tickWidth": 1.5,
                "labelFont": "Open Sans",
                "labelFontSize": 20,
                "labelColor": "#555555",
                "labelPadding": 3,
                "labelFlush": false,
                "labelOverlap": false
              }
            },
            "y": {
              "field": "r", "type": "quantitative", "title": null,
              "scale": {"domain": [1.97, 84.27], "range": [128, 0], "nice": false, "zero": false},
              "axis": {
                "orient": "right",
                "values": [50],
                "format": ".2f",
                "grid": false,
                "ticks": false,
                "domain": false,
                "labelAlign": "left",
                "labelPadding": 21,
                "labelFont": "Open Sans",
                "labelFontSize": 20,
                "labelColor": "#666666"
              }
            }
          }
        },
        {
          "data": {"name": "rsiNotes"},
          "transform": [{"filter": "datum.kind == 'name'"}],
          "mark": {"type": "text", "align": "left", "baseline": "middle", "font": "Liberation Sans", "fontWeight": "bold", "fontSize": 20.5, "color": "#1c1c1c"},
          "encoding": {
            "x": {"field": "d", "type": "temporal", "title": null, "scale": {"type": "utc", "nice": false, "domain": [{"year": 2018, "month": 2, "date": 5, "utc": true}, {"year": 2021, "month": 2, "date": 16, "utc": true}]}},
            "y": {"field": "v", "type": "quantitative", "title": null, "scale": {"domain": [1.97, 84.27], "range": [128, 0], "nice": false, "zero": false}},
            "text": {"field": "t"}
          }
        },
        {
          "data": {"name": "rsiNotes"},
          "transform": [{"filter": "datum.kind == 'icon'"}],
          "mark": {"type": "text", "align": "left", "baseline": "middle", "font": "DejaVu Sans", "fontSize": 22, "color": "#7d858f"},
          "encoding": {
            "x": {"field": "d", "type": "temporal", "title": null, "scale": {"type": "utc", "nice": false, "domain": [{"year": 2018, "month": 2, "date": 5, "utc": true}, {"year": 2021, "month": 2, "date": 16, "utc": true}]}},
            "y": {"field": "v", "type": "quantitative", "title": null, "scale": {"domain": [1.97, 84.27], "range": [128, 0], "nice": false, "zero": false}},
            "text": {"field": "t"}
          }
        },
        {
          "data": {"values": [{}]},
          "mark": {"type": "rule", "color": "#E8291C", "strokeWidth": 1.6},
          "encoding": {
            "y": {"datum": 74.4, "type": "quantitative", "scale": {"domain": [1.97, 84.27], "range": [128, 0], "nice": false, "zero": false}}
          }
        },
        {
          "data": {"values": [{}]},
          "mark": {"type": "rule", "color": "#2DB34A", "strokeWidth": 1.6},
          "encoding": {
            "y": {"datum": 8.4, "type": "quantitative", "scale": {"domain": [1.97, 84.27], "range": [128, 0], "nice": false, "zero": false}}
          }
        },
        {
          "data": {"values": [{}]},
          "mark": {"type": "rule", "color": "#444444", "strokeWidth": 1.4, "strokeDash": [8, 4, 2, 4]},
          "encoding": {
            "y": {"datum": 50, "type": "quantitative", "scale": {"domain": [1.97, 84.27], "range": [128, 0], "nice": false, "zero": false}}
          }
        },
        {
          "data": {"values": [{}]},
          "mark": {"type": "rule", "color": "#cccccc", "strokeWidth": 2},
          "encoding": {
            "y": {"datum": 1.97, "type": "quantitative", "scale": {"domain": [1.97, 84.27], "range": [128, 0], "nice": false, "zero": false}}
          }
        },
        {
          "data": {"name": "overbought"},
          "mark": {"type": "area", "color": "#E8291C", "opacity": 1},
          "encoding": {
            "x": {"field": "d", "type": "temporal", "title": null, "scale": {"type": "utc", "nice": false, "domain": [{"year": 2018, "month": 2, "date": 5, "utc": true}, {"year": 2021, "month": 2, "date": 16, "utc": true}]}},
            "y": {"field": "r", "type": "quantitative", "title": null, "scale": {"domain": [1.97, 84.27], "range": [128, 0], "nice": false, "zero": false}},
            "y2": {"datum": 74.4}
          }
        },
        {
          "data": {"name": "candles"},
          "mark": {"type": "line", "color": "#111111", "strokeWidth": 3, "strokeJoin": "round"},
          "encoding": {
            "x": {"field": "d", "type": "temporal", "title": null, "scale": {"type": "utc", "nice": false, "domain": [{"year": 2018, "month": 2, "date": 5, "utc": true}, {"year": 2021, "month": 2, "date": 16, "utc": true}]}},
            "y": {"field": "r", "type": "quantitative", "title": null, "scale": {"domain": [1.97, 84.27], "range": [128, 0], "nice": false, "zero": false}}
          }
        },
        {
          "data": {"name": "rsiLast"},
          "mark": {"type": "point", "shape": "M-1,0L-0.714,-0.468L1,-0.468L1,0.468L-0.714,0.468Z", "size": 5929, "filled": true, "color": "#000000", "opacity": 1},
          "encoding": {
            "x": {"datum": {"year": 2021, "month": 3, "date": 11, "utc": true}, "type": "temporal", "scale": {"type": "utc", "nice": false, "domain": [{"year": 2018, "month": 2, "date": 5, "utc": true}, {"year": 2021, "month": 2, "date": 16, "utc": true}]}},
            "y": {"field": "v", "type": "quantitative", "title": null, "scale": {"domain": [1.97, 84.27], "range": [128, 0], "nice": false, "zero": false}}
          }
        },
        {
          "data": {"name": "rsiLast"},
          "mark": {"type": "text", "align": "center", "baseline": "middle", "font": "Open Sans", "fontWeight": "bold", "fontSize": 20, "color": "#FFFFFF"},
          "encoding": {
            "x": {"datum": {"year": 2021, "month": 3, "date": 14, "utc": true}, "type": "temporal", "scale": {"type": "utc", "nice": false, "domain": [{"year": 2018, "month": 2, "date": 5, "utc": true}, {"year": 2021, "month": 2, "date": 16, "utc": true}]}},
            "y": {"field": "v", "type": "quantitative", "title": null, "scale": {"domain": [1.97, 84.27], "range": [128, 0], "nice": false, "zero": false}},
            "text": {"field": "v", "type": "quantitative", "format": ".2f"}
          }
        },
        {
          "data": {"values": [{"d": "2021-01-31", "v": 65.6}]},
          "mark": {"type": "point", "shape": "M-1,-0.5L0,0.5L1,-0.5", "size": 225, "filled": false, "color": "#3a3f47", "strokeWidth": 2, "opacity": 1},
          "encoding": {
            "x": {"field": "d", "type": "temporal", "title": null, "scale": {"type": "utc", "nice": false, "domain": [{"year": 2018, "month": 2, "date": 5, "utc": true}, {"year": 2021, "month": 2, "date": 16, "utc": true}]}},
            "y": {"field": "v", "type": "quantitative", "title": null, "scale": {"domain": [1.97, 84.27], "range": [128, 0], "nice": false, "zero": false}}
          }
        }
      ]
    }
  ],
  "resolve": {"scale": {"y": "independent"}},
  "config": {
    "font": "Open Sans",
    "view": {"stroke": "#cccccc", "strokeWidth": 2}
  }
}
